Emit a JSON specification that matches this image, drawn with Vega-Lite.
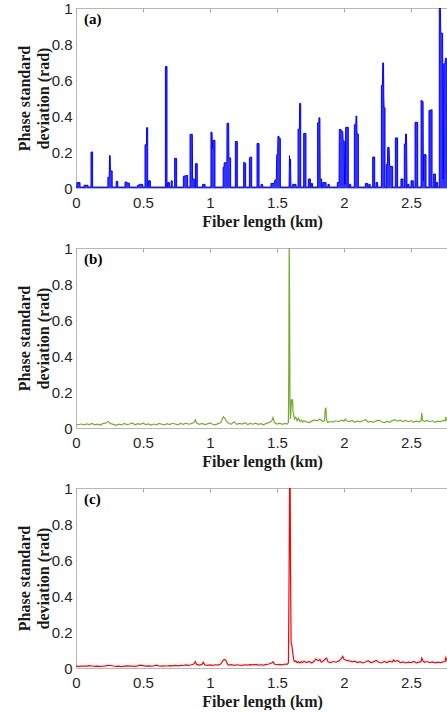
{
  "$schema": "https://vega.github.io/schema/vega-lite/v6.json",
  "background": "white",
  "autosize": {"type": "pad"},
  "padding": {"left": 15, "top": 0, "right": 0, "bottom": 0},
  "config": {
    "view": {"stroke": "#b8b8b8", "strokeWidth": 1},
    "concat": {"spacing": 10},
    "axis": {
      "grid": false,
      "domain": false,
      "labelFont": "Liberation Sans",
      "labelFontSize": 15,
      "labelColor": "#262626",
      "titleFont": "Liberation Serif",
      "titleFontSize": 16,
      "titleFontWeight": "bold",
      "titleColor": "#1a1a1a",
      "tickColor": "#a8a8a8",
      "labelFlush": false,
      "labelOverlap": false
    }
  },
  "datasets": {
    "a": [
      {"km":0,"rad":0.005},
      {"km":0.007,"rad":0.005},{"km":0.007,"rad":0.03},{"km":0.03,"rad":0.03},{"km":0.03,"rad":0.005},
      {"km":0.06,"rad":0.005},{"km":0.06,"rad":0.015},{"km":0.09,"rad":0.015},{"km":0.09,"rad":0.005},
      {"km":0.112,"rad":0.005},{"km":0.112,"rad":0.2},{"km":0.124,"rad":0.2},{"km":0.124,"rad":0.005},
      {"km":0.238,"rad":0.005},{"km":0.238,"rad":0.06},{"km":0.248,"rad":0.06},{"km":0.25,"rad":0.18},{"km":0.255,"rad":0.18},{"km":0.257,"rad":0.095},{"km":0.27,"rad":0.095},{"km":0.27,"rad":0.005},
      {"km":0.3,"rad":0.005},{"km":0.3,"rad":0.037},{"km":0.312,"rad":0.037},{"km":0.312,"rad":0.005},
      {"km":0.366,"rad":0.005},{"km":0.366,"rad":0.033},{"km":0.38,"rad":0.033},{"km":0.383,"rad":0.025},{"km":0.398,"rad":0.028},{"km":0.398,"rad":0.005},
      {"km":0.46,"rad":0.005},{"km":0.46,"rad":0.015},{"km":0.48,"rad":0.02},{"km":0.498,"rad":0.02},{"km":0.498,"rad":0.005},
      {"km":0.515,"rad":0.005},{"km":0.515,"rad":0.24},{"km":0.526,"rad":0.24},{"km":0.527,"rad":0.335},{"km":0.535,"rad":0.335},{"km":0.535,"rad":0.005},
      {"km":0.54,"rad":0.005},{"km":0.54,"rad":0.04},{"km":0.555,"rad":0.04},{"km":0.555,"rad":0.005},
      {"km":0.667,"rad":0.005},{"km":0.667,"rad":0.675},{"km":0.679,"rad":0.675},{"km":0.679,"rad":0.005},
      {"km":0.684,"rad":0.005},{"km":0.684,"rad":0.03},{"km":0.697,"rad":0.03},{"km":0.697,"rad":0.005},
      {"km":0.71,"rad":0.005},{"km":0.71,"rad":0.04},{"km":0.718,"rad":0.04},{"km":0.718,"rad":0.005},
      {"km":0.736,"rad":0.005},{"km":0.736,"rad":0.165},{"km":0.751,"rad":0.165},{"km":0.751,"rad":0.005},
      {"km":0.801,"rad":0.005},{"km":0.801,"rad":0.065},{"km":0.818,"rad":0.068},{"km":0.833,"rad":0.07},{"km":0.833,"rad":0.005},
      {"km":0.851,"rad":0.005},{"km":0.851,"rad":0.298},{"km":0.868,"rad":0.298},{"km":0.87,"rad":0.05},{"km":0.883,"rad":0.05},{"km":0.883,"rad":0.005},
      {"km":0.891,"rad":0.005},{"km":0.891,"rad":0.135},{"km":0.905,"rad":0.135},{"km":0.905,"rad":0.005},
      {"km":0.945,"rad":0.005},{"km":0.945,"rad":0.02},{"km":0.963,"rad":0.02},{"km":0.963,"rad":0.005},
      {"km":1.007,"rad":0.005},{"km":1.007,"rad":0.31},{"km":1.015,"rad":0.31},{"km":1.018,"rad":0.22},{"km":1.022,"rad":0.265},{"km":1.037,"rad":0.265},{"km":1.037,"rad":0.005},
      {"km":1.098,"rad":0.005},{"km":1.098,"rad":0.115},{"km":1.105,"rad":0.115},{"km":1.106,"rad":0.14},{"km":1.119,"rad":0.14},{"km":1.126,"rad":0.14},{"km":1.127,"rad":0.36},{"km":1.139,"rad":0.36},{"km":1.141,"rad":0.167},{"km":1.154,"rad":0.167},{"km":1.154,"rad":0.005},
      {"km":1.189,"rad":0.005},{"km":1.189,"rad":0.258},{"km":1.204,"rad":0.258},{"km":1.204,"rad":0.005},
      {"km":1.251,"rad":0.005},{"km":1.251,"rad":0.142},{"km":1.258,"rad":0.142},{"km":1.266,"rad":0.138},{"km":1.266,"rad":0.005},
      {"km":1.294,"rad":0.005},{"km":1.294,"rad":0.165},{"km":1.3,"rad":0.172},{"km":1.311,"rad":0.172},{"km":1.311,"rad":0.005},
      {"km":1.351,"rad":0.005},{"km":1.351,"rad":0.247},{"km":1.366,"rad":0.247},{"km":1.366,"rad":0.005},
      {"km":1.381,"rad":0.005},{"km":1.381,"rad":0.02},{"km":1.393,"rad":0.02},{"km":1.393,"rad":0.005},
      {"km":1.455,"rad":0.005},{"km":1.455,"rad":0.025},{"km":1.48,"rad":0.025},{"km":1.485,"rad":0.045},{"km":1.495,"rad":0.045},{"km":1.498,"rad":0.185},{"km":1.505,"rad":0.185},{"km":1.507,"rad":0.287},{"km":1.515,"rad":0.287},{"km":1.517,"rad":0.275},{"km":1.525,"rad":0.275},{"km":1.525,"rad":0.005},
      {"km":1.59,"rad":0.005},{"km":1.593,"rad":0.18},{"km":1.597,"rad":0.12},{"km":1.601,"rad":0.16},{"km":1.604,"rad":0.005},
      {"km":1.617,"rad":0.005},{"km":1.617,"rad":0.02},{"km":1.642,"rad":0.02},{"km":1.642,"rad":0.005},
      {"km":1.657,"rad":0.005},{"km":1.657,"rad":0.327},{"km":1.667,"rad":0.327},{"km":1.669,"rad":0.47},{"km":1.677,"rad":0.47},{"km":1.677,"rad":0.005},
      {"km":1.699,"rad":0.005},{"km":1.699,"rad":0.303},{"km":1.716,"rad":0.303},{"km":1.716,"rad":0.005},
      {"km":1.734,"rad":0.005},{"km":1.734,"rad":0.05},{"km":1.749,"rad":0.05},{"km":1.749,"rad":0.005},
      {"km":1.755,"rad":0.005},{"km":1.755,"rad":0.025},{"km":1.765,"rad":0.025},{"km":1.765,"rad":0.005},
      {"km":1.803,"rad":0.005},{"km":1.803,"rad":0.362},{"km":1.812,"rad":0.362},{"km":1.813,"rad":0.39},{"km":1.82,"rad":0.39},{"km":1.822,"rad":0.05},{"km":1.833,"rad":0.05},{"km":1.833,"rad":0.005},
      {"km":1.841,"rad":0.005},{"km":1.841,"rad":0.03},{"km":1.866,"rad":0.03},{"km":1.866,"rad":0.005},
      {"km":1.88,"rad":0.005},{"km":1.88,"rad":0.02},{"km":1.89,"rad":0.02},{"km":1.89,"rad":0.005},
      {"km":1.95,"rad":0.005},{"km":1.95,"rad":0.03},{"km":1.963,"rad":0.03},{"km":1.965,"rad":0.325},{"km":1.978,"rad":0.325},{"km":1.98,"rad":0.315},{"km":1.99,"rad":0.315},{"km":1.993,"rad":0.27},{"km":2.002,"rad":0.26},{"km":2.004,"rad":0.02},{"km":2.01,"rad":0.02},{"km":2.012,"rad":0.337},{"km":2.032,"rad":0.337},{"km":2.032,"rad":0.005},
      {"km":2.04,"rad":0.005},{"km":2.04,"rad":0.02},{"km":2.05,"rad":0.02},{"km":2.05,"rad":0.005},
      {"km":2.077,"rad":0.005},{"km":2.077,"rad":0.352},{"km":2.088,"rad":0.352},{"km":2.09,"rad":0.4},{"km":2.095,"rad":0.4},{"km":2.097,"rad":0.3},{"km":2.107,"rad":0.3},{"km":2.107,"rad":0.005},
      {"km":2.159,"rad":0.005},{"km":2.159,"rad":0.025},{"km":2.177,"rad":0.025},{"km":2.177,"rad":0.005},
      {"km":2.185,"rad":0.005},{"km":2.185,"rad":0.02},{"km":2.195,"rad":0.02},{"km":2.195,"rad":0.005},
      {"km":2.214,"rad":0.005},{"km":2.214,"rad":0.172},{"km":2.229,"rad":0.172},{"km":2.229,"rad":0.005},
      {"km":2.239,"rad":0.005},{"km":2.239,"rad":0.03},{"km":2.251,"rad":0.03},{"km":2.251,"rad":0.005},
      {"km":2.279,"rad":0.005},{"km":2.279,"rad":0.57},{"km":2.287,"rad":0.57},{"km":2.289,"rad":0.695},{"km":2.295,"rad":0.695},{"km":2.297,"rad":0.5},{"km":2.299,"rad":0.445},{"km":2.306,"rad":0.445},{"km":2.306,"rad":0.005},
      {"km":2.316,"rad":0.005},{"km":2.316,"rad":0.13},{"km":2.324,"rad":0.13},{"km":2.326,"rad":0.226},{"km":2.336,"rad":0.226},{"km":2.341,"rad":0.12},{"km":2.363,"rad":0.12},{"km":2.363,"rad":0.005},
      {"km":2.383,"rad":0.005},{"km":2.383,"rad":0.278},{"km":2.4,"rad":0.278},{"km":2.4,"rad":0.005},
      {"km":2.425,"rad":0.005},{"km":2.425,"rad":0.05},{"km":2.44,"rad":0.05},{"km":2.44,"rad":0.005},
      {"km":2.45,"rad":0.005},{"km":2.45,"rad":0.245},{"km":2.459,"rad":0.245},{"km":2.46,"rad":0.3},{"km":2.466,"rad":0.3},{"km":2.468,"rad":0.2},{"km":2.47,"rad":0.005},
      {"km":2.475,"rad":0.005},{"km":2.475,"rad":0.02},{"km":2.485,"rad":0.02},{"km":2.485,"rad":0.005},
      {"km":2.5,"rad":0.005},{"km":2.5,"rad":0.04},{"km":2.517,"rad":0.04},{"km":2.517,"rad":0.005},
      {"km":2.53,"rad":0.005},{"km":2.53,"rad":0.365},{"km":2.55,"rad":0.365},{"km":2.55,"rad":0.005},
      {"km":2.575,"rad":0.005},{"km":2.575,"rad":0.487},{"km":2.59,"rad":0.48},{"km":2.592,"rad":0.04},{"km":2.595,"rad":0.185},{"km":2.612,"rad":0.185},{"km":2.612,"rad":0.005},
      {"km":2.634,"rad":0.005},{"km":2.634,"rad":0.43},{"km":2.657,"rad":0.435},{"km":2.657,"rad":0.005},
      {"km":2.669,"rad":0.005},{"km":2.669,"rad":0.078},{"km":2.682,"rad":0.078},{"km":2.682,"rad":0.005},
      {"km":2.687,"rad":0.005},{"km":2.687,"rad":0.03},{"km":2.699,"rad":0.03},{"km":2.699,"rad":0.005},
      {"km":2.711,"rad":0.005},{"km":2.711,"rad":1.0},{"km":2.719,"rad":1.0},{"km":2.722,"rad":0.86},{"km":2.736,"rad":0.86},{"km":2.738,"rad":0.05},{"km":2.742,"rad":0.05},{"km":2.744,"rad":0.69},{"km":2.754,"rad":0.69},{"km":2.756,"rad":0.72},{"km":2.769,"rad":0.72},{"km":2.77,"rad":0.075},{"km":2.776,"rad":0.075},{"km":2.78,"rad":0.7}
    ],
    "b": [
      {"km":0,"rad":0.02},{"km":0.02,"rad":0.018},{"km":0.04,"rad":0.022},{"km":0.06,"rad":0.017},{"km":0.08,"rad":0.023},{"km":0.1,"rad":0.019},{"km":0.12,"rad":0.025},{"km":0.14,"rad":0.018},{"km":0.16,"rad":0.021},{"km":0.18,"rad":0.016},
      {"km":0.2,"rad":0.024},{"km":0.22,"rad":0.027},{"km":0.24,"rad":0.036},{"km":0.26,"rad":0.024},{"km":0.28,"rad":0.02},{"km":0.3,"rad":0.015},{"km":0.32,"rad":0.021},{"km":0.34,"rad":0.017},{"km":0.36,"rad":0.025},{"km":0.38,"rad":0.019},
      {"km":0.4,"rad":0.022},{"km":0.42,"rad":0.028},{"km":0.44,"rad":0.018},{"km":0.46,"rad":0.024},{"km":0.48,"rad":0.02},{"km":0.5,"rad":0.027},{"km":0.52,"rad":0.019},{"km":0.54,"rad":0.023},{"km":0.56,"rad":0.016},{"km":0.58,"rad":0.022},
      {"km":0.6,"rad":0.018},{"km":0.62,"rad":0.025},{"km":0.64,"rad":0.021},{"km":0.66,"rad":0.017},{"km":0.68,"rad":0.024},{"km":0.7,"rad":0.019},{"km":0.72,"rad":0.026},{"km":0.74,"rad":0.022},{"km":0.76,"rad":0.018},{"km":0.78,"rad":0.025},
      {"km":0.8,"rad":0.02},{"km":0.82,"rad":0.027},{"km":0.84,"rad":0.021},{"km":0.86,"rad":0.024},{"km":0.88,"rad":0.03},{"km":0.89,"rad":0.045},{"km":0.9,"rad":0.028},{"km":0.92,"rad":0.02},{"km":0.94,"rad":0.025},{"km":0.96,"rad":0.019},
      {"km":0.98,"rad":0.023},{"km":1.0,"rad":0.028},{"km":1.02,"rad":0.021},{"km":1.04,"rad":0.018},{"km":1.06,"rad":0.024},{"km":1.08,"rad":0.03},{"km":1.1,"rad":0.062},{"km":1.11,"rad":0.055},{"km":1.12,"rad":0.04},{"km":1.14,"rad":0.025},
      {"km":1.16,"rad":0.022},{"km":1.18,"rad":0.035},{"km":1.2,"rad":0.02},{"km":1.22,"rad":0.026},{"km":1.24,"rad":0.022},{"km":1.26,"rad":0.03},{"km":1.28,"rad":0.019},{"km":1.3,"rad":0.025},{"km":1.32,"rad":0.021},{"km":1.34,"rad":0.027},
      {"km":1.36,"rad":0.02},{"km":1.38,"rad":0.024},{"km":1.4,"rad":0.018},{"km":1.42,"rad":0.026},{"km":1.44,"rad":0.03},{"km":1.46,"rad":0.038},{"km":1.47,"rad":0.058},{"km":1.48,"rad":0.03},{"km":1.5,"rad":0.022},{"km":1.52,"rad":0.027},
      {"km":1.54,"rad":0.02},{"km":1.56,"rad":0.025},{"km":1.575,"rad":0.022},{"km":1.585,"rad":0.03},{"km":1.588,"rad":0.34},{"km":1.591,"rad":1.05},{"km":1.594,"rad":0.7},{"km":1.597,"rad":0.12},{"km":1.6,"rad":0.05},{"km":1.604,"rad":0.09},
      {"km":1.607,"rad":0.16},{"km":1.612,"rad":0.13},{"km":1.616,"rad":0.16},{"km":1.62,"rad":0.09},{"km":1.625,"rad":0.07},{"km":1.63,"rad":0.05},{"km":1.64,"rad":0.06},{"km":1.65,"rad":0.04},{"km":1.66,"rad":0.055},{"km":1.67,"rad":0.038},
      {"km":1.68,"rad":0.045},{"km":1.69,"rad":0.032},{"km":1.7,"rad":0.04},{"km":1.72,"rad":0.034},{"km":1.74,"rad":0.03},{"km":1.76,"rad":0.038},{"km":1.78,"rad":0.045},{"km":1.8,"rad":0.04},{"km":1.82,"rad":0.05},{"km":1.84,"rad":0.036},
      {"km":1.855,"rad":0.04},{"km":1.86,"rad":0.108},{"km":1.865,"rad":0.11},{"km":1.87,"rad":0.045},{"km":1.88,"rad":0.03},{"km":1.9,"rad":0.036},{"km":1.92,"rad":0.033},{"km":1.94,"rad":0.04},{"km":1.96,"rad":0.035},{"km":1.98,"rad":0.043},
      {"km":2.0,"rad":0.038},{"km":2.01,"rad":0.05},{"km":2.02,"rad":0.04},{"km":2.04,"rad":0.036},{"km":2.06,"rad":0.042},{"km":2.08,"rad":0.032},{"km":2.1,"rad":0.038},{"km":2.12,"rad":0.034},{"km":2.14,"rad":0.04},{"km":2.16,"rad":0.046},
      {"km":2.18,"rad":0.033},{"km":2.2,"rad":0.037},{"km":2.22,"rad":0.031},{"km":2.24,"rad":0.04},{"km":2.26,"rad":0.044},{"km":2.28,"rad":0.035},{"km":2.3,"rad":0.03},{"km":2.32,"rad":0.037},{"km":2.34,"rad":0.032},{"km":2.36,"rad":0.041},
      {"km":2.38,"rad":0.046},{"km":2.4,"rad":0.038},{"km":2.42,"rad":0.044},{"km":2.44,"rad":0.036},{"km":2.46,"rad":0.042},{"km":2.48,"rad":0.035},{"km":2.5,"rad":0.04},{"km":2.52,"rad":0.033},{"km":2.54,"rad":0.038},{"km":2.56,"rad":0.034},
      {"km":2.575,"rad":0.04},{"km":2.58,"rad":0.085},{"km":2.585,"rad":0.045},{"km":2.6,"rad":0.036},{"km":2.62,"rad":0.042},{"km":2.64,"rad":0.035},{"km":2.66,"rad":0.04},{"km":2.68,"rad":0.032},{"km":2.7,"rad":0.038},{"km":2.72,"rad":0.036},
      {"km":2.74,"rad":0.042},{"km":2.755,"rad":0.04},{"km":2.76,"rad":0.062},{"km":2.765,"rad":0.045},{"km":2.78,"rad":0.038}
    ],
    "c": [
      {"km":0,"rad":0.01},{"km":0.02,"rad":0.009},{"km":0.04,"rad":0.01},{"km":0.06,"rad":0.011},{"km":0.08,"rad":0.01},{"km":0.1,"rad":0.013},{"km":0.12,"rad":0.011},{"km":0.14,"rad":0.009},{"km":0.16,"rad":0.01},{"km":0.18,"rad":0.009},
      {"km":0.2,"rad":0.01},{"km":0.22,"rad":0.012},{"km":0.24,"rad":0.015},{"km":0.26,"rad":0.014},{"km":0.28,"rad":0.011},{"km":0.3,"rad":0.009},{"km":0.32,"rad":0.01},{"km":0.34,"rad":0.008},{"km":0.36,"rad":0.01},{"km":0.38,"rad":0.012},
      {"km":0.4,"rad":0.01},{"km":0.42,"rad":0.011},{"km":0.44,"rad":0.009},{"km":0.46,"rad":0.012},{"km":0.48,"rad":0.016},{"km":0.5,"rad":0.013},{"km":0.52,"rad":0.01},{"km":0.54,"rad":0.012},{"km":0.56,"rad":0.01},{"km":0.58,"rad":0.011},
      {"km":0.6,"rad":0.016},{"km":0.62,"rad":0.011},{"km":0.64,"rad":0.01},{"km":0.66,"rad":0.012},{"km":0.68,"rad":0.011},{"km":0.7,"rad":0.013},{"km":0.72,"rad":0.012},{"km":0.74,"rad":0.014},{"km":0.76,"rad":0.012},{"km":0.78,"rad":0.015},
      {"km":0.8,"rad":0.014},{"km":0.82,"rad":0.017},{"km":0.84,"rad":0.015},{"km":0.86,"rad":0.018},{"km":0.88,"rad":0.022},{"km":0.89,"rad":0.036},{"km":0.9,"rad":0.02},{"km":0.92,"rad":0.016},{"km":0.94,"rad":0.02},{"km":0.95,"rad":0.032},
      {"km":0.96,"rad":0.018},{"km":0.98,"rad":0.015},{"km":1.0,"rad":0.017},{"km":1.02,"rad":0.015},{"km":1.04,"rad":0.018},{"km":1.06,"rad":0.016},{"km":1.08,"rad":0.022},{"km":1.1,"rad":0.045},{"km":1.11,"rad":0.048},{"km":1.12,"rad":0.04},
      {"km":1.13,"rad":0.022},{"km":1.14,"rad":0.016},{"km":1.16,"rad":0.019},{"km":1.18,"rad":0.015},{"km":1.2,"rad":0.018},{"km":1.22,"rad":0.016},{"km":1.24,"rad":0.015},{"km":1.26,"rad":0.018},{"km":1.28,"rad":0.016},{"km":1.3,"rad":0.019},
      {"km":1.32,"rad":0.017},{"km":1.34,"rad":0.02},{"km":1.36,"rad":0.016},{"km":1.38,"rad":0.018},{"km":1.4,"rad":0.016},{"km":1.42,"rad":0.02},{"km":1.44,"rad":0.022},{"km":1.46,"rad":0.028},{"km":1.47,"rad":0.035},{"km":1.48,"rad":0.022},
      {"km":1.5,"rad":0.018},{"km":1.52,"rad":0.02},{"km":1.54,"rad":0.017},{"km":1.56,"rad":0.022},{"km":1.575,"rad":0.02},{"km":1.585,"rad":0.028},{"km":1.59,"rad":0.5},{"km":1.594,"rad":1.05},{"km":1.598,"rad":1.05},{"km":1.601,"rad":0.55},
      {"km":1.605,"rad":0.14},{"km":1.61,"rad":0.13},{"km":1.615,"rad":0.1},{"km":1.62,"rad":0.07},{"km":1.625,"rad":0.045},{"km":1.63,"rad":0.035},{"km":1.64,"rad":0.04},{"km":1.65,"rad":0.03},{"km":1.66,"rad":0.035},{"km":1.67,"rad":0.028},
      {"km":1.68,"rad":0.036},{"km":1.69,"rad":0.03},{"km":1.7,"rad":0.038},{"km":1.72,"rad":0.03},{"km":1.74,"rad":0.036},{"km":1.76,"rad":0.028},{"km":1.78,"rad":0.04},{"km":1.79,"rad":0.05},{"km":1.8,"rad":0.045},{"km":1.81,"rad":0.04},
      {"km":1.82,"rad":0.048},{"km":1.83,"rad":0.032},{"km":1.84,"rad":0.036},{"km":1.86,"rad":0.05},{"km":1.87,"rad":0.055},{"km":1.88,"rad":0.035},{"km":1.9,"rad":0.03},{"km":1.92,"rad":0.036},{"km":1.94,"rad":0.032},{"km":1.96,"rad":0.038},
      {"km":1.98,"rad":0.052},{"km":1.99,"rad":0.065},{"km":2.0,"rad":0.048},{"km":2.02,"rad":0.042},{"km":2.04,"rad":0.04},{"km":2.06,"rad":0.034},{"km":2.08,"rad":0.038},{"km":2.1,"rad":0.03},{"km":2.12,"rad":0.035},{"km":2.14,"rad":0.028},
      {"km":2.16,"rad":0.033},{"km":2.18,"rad":0.04},{"km":2.2,"rad":0.03},{"km":2.22,"rad":0.034},{"km":2.24,"rad":0.042},{"km":2.26,"rad":0.032},{"km":2.28,"rad":0.028},{"km":2.3,"rad":0.036},{"km":2.32,"rad":0.03},{"km":2.34,"rad":0.038},
      {"km":2.36,"rad":0.033},{"km":2.37,"rad":0.045},{"km":2.38,"rad":0.036},{"km":2.4,"rad":0.042},{"km":2.42,"rad":0.03},{"km":2.44,"rad":0.034},{"km":2.46,"rad":0.028},{"km":2.48,"rad":0.033},{"km":2.5,"rad":0.03},{"km":2.52,"rad":0.036},
      {"km":2.54,"rad":0.029},{"km":2.56,"rad":0.033},{"km":2.575,"rad":0.035},{"km":2.58,"rad":0.055},{"km":2.59,"rad":0.04},{"km":2.6,"rad":0.032},{"km":2.62,"rad":0.036},{"km":2.64,"rad":0.03},{"km":2.66,"rad":0.034},{"km":2.68,"rad":0.029},
      {"km":2.7,"rad":0.033},{"km":2.72,"rad":0.03},{"km":2.74,"rad":0.034},{"km":2.755,"rad":0.036},{"km":2.76,"rad":0.058},{"km":2.77,"rad":0.04},{"km":2.78,"rad":0.035}
    ]
  },
  "vconcat": [
    {
      "width": 372, "height": 180,
      "layer": [
        {
          "data": {"name": "a"},
          "mark": {"type": "area", "color": "#0000ff", "opacity": 0.8, "clip": true},
          "encoding": {
            "x": {"field": "km", "type": "quantitative", "scale": {"domain": [0, 2.776], "nice": false, "zero": false},
                  "axis": {"orient": "bottom", "values": [0, 0.5, 1, 1.5, 2, 2.5], "format": "~g", "title": "Fiber length (km)", "ticks": false, "labelPadding": 7, "titlePadding": 3, "labelOverlap": false, "labelFlush": false}},
            "y": {"field": "rad", "type": "quantitative", "stack": null, "scale": {"domain": [0, 1], "nice": false},
                  "axis": {"orient": "left", "values": [0, 0.2, 0.4, 0.6, 0.8, 1], "format": "~g", "title": ["Phase standard", "deviation (rad)"], "ticks": false, "labelPadding": 4, "titlePadding": 0, "titleLineHeight": 19, "labelOverlap": false, "labelFlush": false}},
            "order": {"value": null}
          }
        },
        {
          "data": {"name": "a"},
          "mark": {"type": "line", "color": "#0000ff", "strokeWidth": 1, "clip": true},
          "encoding": {
            "x": {"field": "km", "type": "quantitative", "axis": {"orient": "top", "values": [0, 0.5, 1, 1.5, 2, 2.5], "labels": false, "title": null, "tickSize": -4}},
            "y": {"field": "rad", "type": "quantitative", "axis": null},
            "order": {"value": null}
          }
        },
        {
          "data": {"values": [{"label": "(a)"}]},
          "mark": {"type": "text", "font": "Liberation Serif", "fontWeight": "bold", "fontSize": 15, "align": "left", "baseline": "middle", "color": "#000000"},
          "encoding": {
            "x": {"datum": 0.06, "type": "quantitative", "axis": null},
            "y": {"datum": 0.94, "type": "quantitative", "axis": null},
            "text": {"field": "label"}
          }
        }
      ],
      "resolve": {"axis": {"x": "independent", "y": "independent"}}
    },
    {
      "width": 372, "height": 180,
      "layer": [
        {
          "data": {"name": "b"},
          "mark": {"type": "line", "color": "#77ac30", "strokeWidth": 1.2, "clip": true},
          "encoding": {
            "x": {"field": "km", "type": "quantitative", "scale": {"domain": [0, 2.776], "nice": false, "zero": false},
                  "axis": {"orient": "bottom", "values": [0, 0.5, 1, 1.5, 2, 2.5], "format": "~g", "title": "Fiber length (km)", "ticks": false, "labelPadding": 7, "titlePadding": 3, "labelOverlap": false, "labelFlush": false}},
            "y": {"field": "rad", "type": "quantitative", "scale": {"domain": [0, 1], "nice": false},
                  "axis": {"orient": "left", "values": [0, 0.2, 0.4, 0.6, 0.8, 1], "format": "~g", "title": ["Phase standard", "deviation (rad)"], "ticks": false, "labelPadding": 4, "titlePadding": 0, "titleLineHeight": 19, "labelOverlap": false, "labelFlush": false}},
            "order": {"value": null}
          }
        },
        {
          "data": {"name": "b"},
          "mark": {"type": "line", "opacity": 0, "clip": true},
          "encoding": {
            "x": {"field": "km", "type": "quantitative", "axis": {"orient": "top", "values": [0, 0.5, 1, 1.5, 2, 2.5], "labels": false, "title": null, "tickSize": -4}},
            "y": {"field": "rad", "type": "quantitative", "axis": null},
            "order": {"value": null}
          }
        },
        {
          "data": {"values": [{"label": "(b)"}]},
          "mark": {"type": "text", "font": "Liberation Serif", "fontWeight": "bold", "fontSize": 15, "align": "left", "baseline": "middle", "color": "#000000"},
          "encoding": {
            "x": {"datum": 0.06, "type": "quantitative", "axis": null},
            "y": {"datum": 0.94, "type": "quantitative", "axis": null},
            "text": {"field": "label"}
          }
        }
      ],
      "resolve": {"axis": {"x": "independent", "y": "independent"}}
    },
    {
      "width": 372, "height": 180,
      "layer": [
        {
          "data": {"name": "c"},
          "mark": {"type": "line", "color": "#ff0000", "strokeWidth": 1.2, "clip": true},
          "encoding": {
            "x": {"field": "km", "type": "quantitative", "scale": {"domain": [0, 2.776], "nice": false, "zero": false},
                  "axis": {"orient": "bottom", "values": [0, 0.5, 1, 1.5, 2, 2.5], "format": "~g", "title": "Fiber length (km)", "ticks": false, "labelPadding": 7, "titlePadding": 3, "labelOverlap": false, "labelFlush": false}},
            "y": {"field": "rad", "type": "quantitative", "scale": {"domain": [0, 1], "nice": false},
                  "axis": {"orient": "left", "values": [0, 0.2, 0.4, 0.6, 0.8, 1], "format": "~g", "title": ["Phase standard", "deviation (rad)"], "ticks": false, "labelPadding": 4, "titlePadding": 0, "titleLineHeight": 19, "labelOverlap": false, "labelFlush": false}},
            "order": {"value": null}
          }
        },
        {
          "data": {"name": "c"},
          "mark": {"type": "line", "opacity": 0, "clip": true},
          "encoding": {
            "x": {"field": "km", "type": "quantitative", "axis": {"orient": "top", "values": [0, 0.5, 1, 1.5, 2, 2.5], "labels": false, "title": null, "tickSize": -4}},
            "y": {"field": "rad", "type": "quantitative", "axis": null},
            "order": {"value": null}
          }
        },
        {
          "data": {"values": [{"label": "(c)"}]},
          "mark": {"type": "text", "font": "Liberation Serif", "fontWeight": "bold", "fontSize": 15, "align": "left", "baseline": "middle", "color": "#000000"},
          "encoding": {
            "x": {"datum": 0.06, "type": "quantitative", "axis": null},
            "y": {"datum": 0.94, "type": "quantitative", "axis": null},
            "text": {"field": "label"}
          }
        }
      ],
      "resolve": {"axis": {"x": "independent", "y": "independent"}}
    }
  ]
}
